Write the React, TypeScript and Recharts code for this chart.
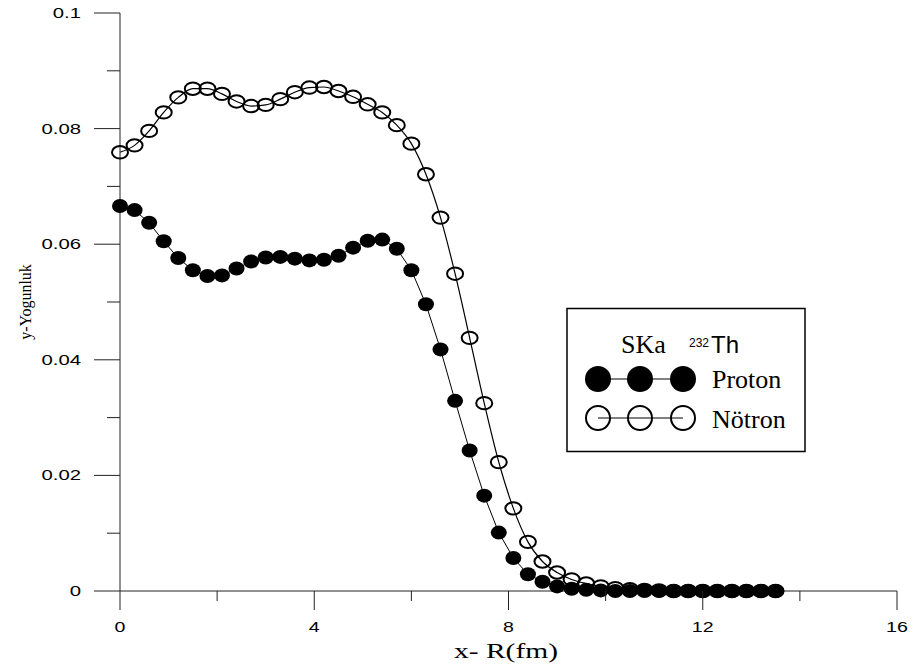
import React from 'react'
import { LineChart, Line, XAxis, YAxis } from 'recharts'

// radius in fm, one point every 0.3 fm
const RADIUS = [
  0, 0.3, 0.6, 0.9, 1.2, 1.5, 1.8, 2.1, 2.4, 2.7, 3.0, 3.3, 3.6, 3.9, 4.2, 4.5,
  4.8, 5.1, 5.4, 5.7, 6.0, 6.3, 6.6, 6.9, 7.2, 7.5, 7.8, 8.1, 8.4, 8.7, 9.0, 9.3,
  9.6, 9.9, 10.2, 10.5, 10.8, 11.1, 11.4, 11.7, 12.0, 12.3, 12.6, 12.9, 13.2, 13.5,
]

const PROTON = [
  0.0666, 0.0659, 0.0637, 0.0605, 0.0576, 0.0555, 0.0545, 0.0546, 0.0558, 0.057,
  0.0577, 0.0578, 0.0575, 0.0572, 0.0573, 0.058, 0.0594, 0.0606, 0.0608, 0.0592,
  0.0555, 0.0496, 0.0418, 0.0329, 0.0243, 0.0165, 0.0101, 0.0057, 0.0029, 0.0016,
  0.0008, 0.0004, 0.0002, 0.0001, 0, 0, 0, 0, 0, 0, 0, 0, 0, 0, 0, 0,
]

const NEUTRON = [
  0.0759, 0.0771, 0.0796, 0.0828, 0.0854, 0.0869, 0.0869, 0.086, 0.0847, 0.0839,
  0.0841, 0.0851, 0.0863, 0.0871, 0.0872, 0.0865, 0.0855, 0.0842, 0.0828, 0.0806,
  0.0774, 0.0721, 0.0646, 0.0549, 0.0438, 0.0325, 0.0223, 0.0143, 0.0085, 0.0051,
  0.0032, 0.002, 0.0013, 0.0008, 0.0005, 0.0003, 0.0002, 0.0001, 0, 0, 0, 0, 0, 0, 0, 0,
]

const X_TICKS = [0, 2, 4, 6, 8, 10, 12, 14, 16]
const Y_TICKS = [0, 0.01, 0.02, 0.03, 0.04, 0.05, 0.06, 0.07, 0.08, 0.09, 0.1]

const data = RADIUS.map((r, i) => ({ r, proton: PROTON[i], neutron: NEUTRON[i] }))

const SANS = '"Liberation Sans", Arial, sans-serif'
const SERIF = '"Liberation Serif", "Times New Roman", "DejaVu Serif", serif'
const AXIS = '#222'

// ── ticks: long with label on majors, short on minors ────────────────────────
function XTick({ x, y, payload }: any) {
  const major = payload.value % 4 === 0
  return (
    <g>
      <line x1={x} x2={x} y1={y} y2={y + (major ? 19 : 10)} stroke={AXIS} />
      {major && (
        <text transform={`translate(${x},${y + 41}) scale(1.4,1)`} textAnchor="middle"
          style={{ fontFamily: SANS }} fontSize={14} fill="#000">
          {payload.value}
        </text>
      )}
    </g>
  )
}

function YTick({ x, y, payload }: any) {
  const major = Math.round(payload.value * 100) % 2 === 0
  return (
    <g>
      <line x1={x - (major ? 26 : 13)} x2={x} y1={y} y2={y} stroke={AXIS} />
      {major && (
        <text transform={`translate(${x - 39},${y + 5}) scale(1.45,1)`} textAnchor="end"
          style={{ fontFamily: SANS }} fontSize={14} fill="#000">
          {payload.value === 0 ? '0' : String(payload.value)}
        </text>
      )}
    </g>
  )
}

// ── markers (slightly wide ellipses, as in the source) ───────────────────────
const filledDot = (p: any) => (
  <ellipse key={`p${p.index}`} cx={p.cx} cy={p.cy} rx={8} ry={7} fill="#000" />
)
const openDot = (p: any) => (
  <ellipse key={`n${p.index}`} cx={p.cx} cy={p.cy} rx={8} ry={6.2} fill="none" stroke="#000" strokeWidth={2} />
)

function LegendBox() {
  const cxs = [598, 640, 683]
  const serif = { fontFamily: SERIF }
  const sans = { fontFamily: SANS }
  return (
    <svg width={914} height={669} style={{ position: 'absolute', left: 0, top: 0, pointerEvents: 'none' }}>
      <text x={506} y={658} textAnchor="middle" style={serif} fontSize={20}
        textLength={104} lengthAdjust="spacingAndGlyphs">x- R(fm)</text>
      <text transform="translate(31,302) rotate(-90)" textAnchor="middle" style={serif} fontSize={16}>
        y-Yogunluk
      </text>
      <rect x={567} y={308.5} width={238} height={143} fill="#fff" stroke="#000" strokeWidth={1.5} />
      <text x={621} y={353} style={serif} fontSize={26}>SKa</text>
      <text x={689} y={347} style={sans} fontSize={12}>232</text>
      <text x={711} y={353} style={sans} fontSize={24}>Th</text>
      <line x1={cxs[0]} x2={cxs[2]} y1={379} y2={379} stroke="#000" />
      {cxs.map((c) => <circle key={`lp${c}`} cx={c} cy={379} r={13} fill="#000" />)}
      <text x={712} y={388} style={serif} fontSize={26}>Proton</text>
      <line x1={cxs[0]} x2={cxs[2]} y1={418} y2={418} stroke="#000" />
      {cxs.map((c) => <circle key={`ln${c}`} cx={c} cy={418} r={12} fill="none" stroke="#000" strokeWidth={2} />)}
      <text x={712} y={428} style={serif} fontSize={26}>Nötron</text>
    </svg>
  )
}

export default function App() {
  return (
    <div style={{ position: 'absolute', left: 0, top: 0, width: 914, height: 669, background: '#fff' }}>
      <LineChart width={914} height={669} data={data} margin={{ top: 13, right: 17, left: 0, bottom: 0 }}>
        <XAxis type="number" dataKey="r" domain={[0, 16]} ticks={X_TICKS} interval={0}
          height={78} tickSize={0} tickMargin={0} tickLine={false} tick={<XTick />}
          axisLine={{ stroke: AXIS }} />
        <YAxis type="number" domain={[0, 0.1]} ticks={Y_TICKS} interval={0}
          width={120} tickSize={0} tickMargin={0} tickLine={false} tick={<YTick />}
          axisLine={{ stroke: AXIS }} />
        <Line type="monotone" dataKey="neutron" stroke="#000" strokeWidth={1.2}
          dot={openDot} activeDot={false} isAnimationActive={false} />
        <Line type="linear" dataKey="proton" stroke="#000" strokeWidth={1}
          dot={filledDot} activeDot={false} isAnimationActive={false} />
      </LineChart>
      <LegendBox />
    </div>
  )
}
